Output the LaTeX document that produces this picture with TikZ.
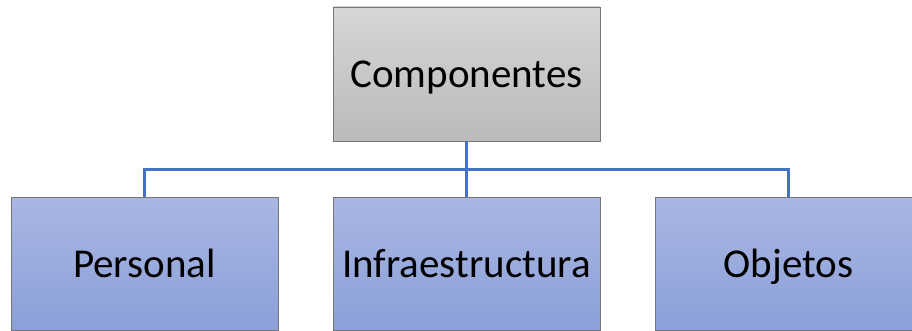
\documentclass[tikz,border=0pt]{standalone}
\usepackage{fontspec}
\setmainfont{Carlito}
\usetikzlibrary{trees}

\definecolor{linkblue}{RGB}{68,114,196}
\definecolor{boxedge}{RGB}{118,118,118}

\begin{document}
\begin{tikzpicture}[
    x = 1pt, y = 1pt,
    %thick,
    level distance = 189.5pt,
    sibling distance = 322pt,
    box/.style = {draw = boxedge, line width = 0.8pt, rectangle,
      minimum width = 267pt, minimum height = 133pt,
      text height = 30pt, text depth = 3pt,
      font = \fontsize{41}{49}\selectfont},
    root/.style = {box, top color = black!16, bottom color = black!27},
    part/.style = {box, top color = {rgb,255:red,170;green,182;blue,226},
      bottom color = {rgb,255:red,138;green,160;blue,216}},
    edge from parent/.style = {draw = linkblue, line width = 2.6pt},
    edge from parent path = {(\tikzparentnode.south) -- ++(0,-28) -| (\tikzchildnode.north)}
  ]
  \useasboundingbox (0,0) rectangle (912,-331);

  \node[root, minimum height = 134pt] (comp) at (466.5,-74) {Componentes}
    child { node[part] (pers) {Personal} }
    child { node[part] (infra) {Infraestructura} }
    child { node[part] (obj) {Objetos} };
\end{tikzpicture}
\end{document}
